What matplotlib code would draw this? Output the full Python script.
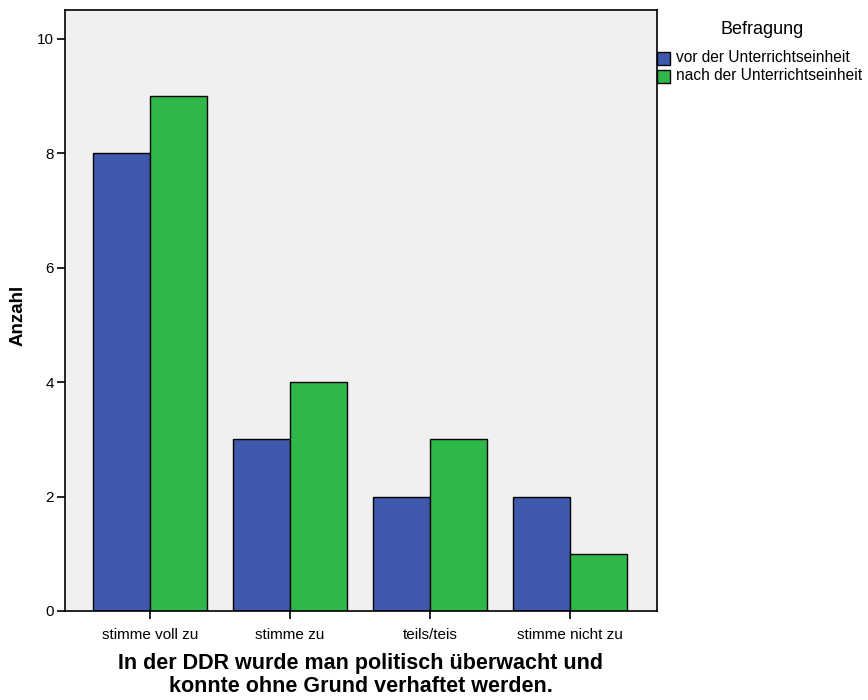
import numpy as np
import matplotlib.pyplot as plt
from matplotlib.patches import Rectangle

plt.rcParams['font.family'] = ['Liberation Sans', 'DejaVu Sans']

# Daten
kategorien = ['stimme voll zu', 'stimme zu', 'teils/teis', 'stimme nicht zu']
vorher = [8, 3, 2, 2]
nachher = [9, 4, 3, 1]
serien = ['vor der Unterrichtseinheit', 'nach der Unterrichtseinheit']
farben = ['#3E58AC', '#2EB84A']

W, H = 868, 700
fig = plt.figure(figsize=(W / 100, H / 100), dpi=100)
ax = fig.add_axes([65 / W, 1 - 611 / H, 592 / W, 601 / H])
ax.set_facecolor('#F0F0F0')

x = np.arange(len(kategorien))
w = 0.407
ax.bar(x - w / 2, vorher, w, color=farben[0], edgecolor='black', linewidth=1)
ax.bar(x + w / 2, nachher, w, color=farben[1], edgecolor='black', linewidth=1)

ax.set_xlim(-0.607, 3.621)
ax.set_ylim(0, 10.5)
ax.set_yticks([0, 2, 4, 6, 8, 10])
ax.set_xticks(x)
ax.set_xticklabels(kategorien, fontsize=11)
ax.tick_params(axis='y', labelsize=11, length=6, width=1.2, direction='out', pad=2)
ax.tick_params(axis='x', length=6, width=1.2, direction='out', pad=6)
for s in ax.spines.values():
    s.set_linewidth(1.2)

fig.text(18 / W, 1 - 315 / H, 'Anzahl', rotation=90, fontsize=13.5,
         fontweight='bold', ha='center', va='center')
fig.text(361 / W, 1 - 675 / H,
         'In der DDR wurde man politisch überwacht und\nkonnte ohne Grund verhaftet werden.',
         fontsize=15.5, fontweight='bold', ha='center', va='center',
         multialignment='center', linespacing=1.1)

# Legende
fig.text(762 / W, 1 - 30 / H, 'Befragung', fontsize=13, ha='center', va='center')
for i in range(2):
    yc = 58 + 18 * i
    fig.patches.append(Rectangle((657 / W, 1 - (yc + 6.5) / H), 13 / W, 13 / H,
                                 transform=fig.transFigure, facecolor=farben[i],
                                 edgecolor='black', linewidth=1))
    fig.text(676 / W, 1 - yc / H, serien[i], fontsize=11.2, ha='left', va='center')

fig.savefig('out.png', dpi=100)
